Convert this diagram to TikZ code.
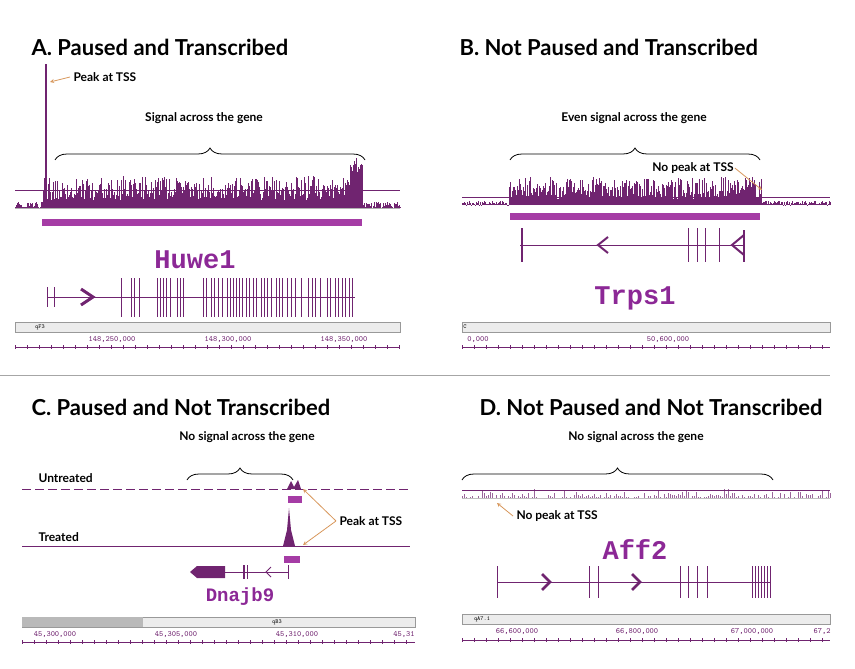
\documentclass[tikz,border=0pt]{standalone}
\usepackage{fontspec}
\setmainfont{Lato}
\newfontfamily\genefont{Liberation Mono}
\usetikzlibrary{positioning,decorations.pathreplacing}
\definecolor{trk}{RGB}{112,36,112}
\definecolor{bar}{RGB}{165,60,165}
\definecolor{gname}{RGB}{140,40,150}
\definecolor{pk}{RGB}{215,150,90}
\tikzset{
  title/.style={font=\bfseries\fontsize{22}{25}\selectfont, anchor=west},
  lbl/.style={font=\bfseries\fontsize{12}{14}\selectfont},
  gene/.style={font=\genefont\bfseries\fontsize{27}{30}\selectfont, text=gname},
  ruler/.style={font=\ttfamily\fontsize{8}{9}\selectfont, text=trk},
  brc/.style={decorate, decoration={brace, amplitude=12pt}, thick},
  sig/.style={trk, line width=0.6pt},
  tss/.style={pk, thick, ->, >=stealth},
  exon/.style={trk, line width=1pt},
  chrom/.style={fill=gray!15, draw=gray!80, thick}
}
\begin{document}
\begin{tikzpicture}[x=1pt, y=-1pt]
  \useasboundingbox (0,0) rectangle (855,669);
  \pgfmathsetseed{7}

  % panel A
  \node[title] (tA) at (28,47) {A. Paused and Transcribed};
  \foreach \x in {15,16,...,400} {
    \pgfmathsetmacro\h{(\x>42 && \x<362) ? 8+rnd*24 : rnd*6}
    \draw[sig] (\x,208) -- ++(0,-\h);
  }
  \foreach \x in {350,351,...,362} {\draw[sig] (\x,208) -- ++(0,-35-rnd*15);}
  \draw[trk, line width=1.5pt] (46,208) -- (46,64);
  \draw[trk, thick] (15,190) -- (400,190);
  \draw[gray!60] (15,208) -- (400,208);
  \node[lbl, anchor=west] (pA) at (70,77) {Peak at TSS};
  \coordinate (pAe) at (50,82);
  \draw[tss] (pA.west) -- (pAe);
  \coordinate (bA1) at (55,160);
  \coordinate (bA2) at (365,160);
  \draw[brc] (bA1) -- (bA2);
  \node[lbl] (sA) at (204,118) {Signal across the gene};
  \fill[bar] (42,219) rectangle (362,226);
  \node[gene] (gA) at (195,260) {Huwe1};
  \draw[exon] (47,297) -- (355,297);
  \draw[exon] (47,287) -- (47,307) (54,287) -- (54,307);
  \draw[trk, line width=3pt] (81,289) -- (93,297) -- (81,305);
  \foreach \x in {121,131,134,139,157,160,163,166,170,177,180,183,
      203,206,211,214,218,222,227,230,233,236,239,242,246,249,253,256,
      261,264,267,271,276,279,282,287,291,295,301,308,312,315,320,
      327,330,335,338,342,345,349,352}
    \draw[exon] (\x,278) -- (\x,317);
  \draw[chrom] (15,322) rectangle (400,332);
  \node[font=\ttfamily\fontsize{6}{7}\selectfont] (cA) at (40,327) {qF3};
  \draw[trk, thick] (15,347) -- (400,347);
  \foreach \x in {15,27,...,400} \draw[trk] (\x,345) -- (\x,349);
  \node[ruler] (rA1) at (112,340) {148,250,000};
  \node[ruler] (rA2) at (228,340) {148,300,000};
  \node[ruler] (rA3) at (344,340) {148,350,000};

  % panel B
  \node[title] (tB) at (456,47) {B. Not Paused and Transcribed};
  \foreach \x in {462,463,...,830} {
    \pgfmathsetmacro\h{(\x>508 && \x<762) ? 6+rnd*22 : rnd*4}
    \draw[sig] (\x,205) -- ++(0,-\h);
  }
  \draw[trk, thick] (462,197) -- (830,197);
  \node[lbl] (sB) at (634,118) {Even signal across the gene};
  \coordinate (bB1) at (510,160);
  \coordinate (bB2) at (760,160);
  \draw[brc] (bB1) -- (bB2);
  \node[lbl, fill=white, inner sep=1pt] (pB) at (693,168) {No peak at TSS};
  \coordinate (pBe) at (762,190);
  \draw[tss] (pB.east) -- (pBe);
  \fill[bar] (510,213) rectangle (760,220);
  \draw[exon] (520,245) -- (745,245);
  \draw[trk, line width=2pt] (522,228) -- (522,262);
  \draw[trk, line width=2pt] (608,237) -- (598,245) -- (608,253);
  \foreach \x in {688,697,705,719} \draw[exon] (\x,228) -- (\x,262);
  \draw[trk, line width=2pt] (744,235) -- (732,245) -- (744,255);
  \draw[trk, line width=2pt] (744,230) -- (744,262);
  \node[gene] (gB) at (635,298) {Trps1};
  \draw[chrom] (462,322) rectangle (830,332);
  \node[font=\ttfamily\fontsize{6}{7}\selectfont] (cB) at (465,327) {C};
  \draw[trk, thick] (462,347) -- (830,347);
  \foreach \x in {462,474,...,830} \draw[trk] (\x,345) -- (\x,349);
  \node[ruler] (rB1) at (478,340) {0,000};
  \node[ruler] (rB2) at (668,340) {50,600,000};

  \draw[gray!70] (0,375) -- (830,375);

  % panel C
  \node[title] (tC) at (28,407) {C. Paused and Not Transcribed};
  \node[lbl] (sC) at (247,437) {No signal across the gene};
  \coordinate (bC1) at (187,480);
  \coordinate (bC2) at (293,480);
  \draw[brc] (bC1) -- (bC2);
  \node[lbl, anchor=west] (uC) at (35,478) {Untreated};
  \node[lbl, anchor=west] (trC) at (35,537) {Treated};
  \draw[trk, thick, dash pattern=on 9pt off 4pt] (22,489) -- (410,489);
  \draw[trk, thick] (22,546) -- (410,546);
  \fill[trk] (287,489) -- (291,481) -- (294,487) -- (298,480) -- (301,489) -- cycle;
  \fill[trk] (283,546) -- (287,530) -- (289,508) -- (291,530) -- (295,546) -- cycle;
  \fill[bar] (288,496) rectangle (302,503);
  \fill[bar] (284,556) rectangle (300,563);
  \node[lbl, anchor=west] (pC) at (336,521) {Peak at TSS};
  \coordinate (pC1) at (303,489);
  \coordinate (pC2) at (303,545);
  \draw[tss] (pC.west) -- (pC1);
  \draw[tss] (pC.west) -- (pC2);
  \fill[trk] (190,572) -- (197,566) -- (225,566) -- (225,578) -- (197,578) -- cycle;
  \draw[exon] (225,572) -- (288,572);
  \draw[trk, line width=2pt] (244,565) -- (244,579);
  \draw[exon] (247,565) -- (247,579);
  \draw[exon] (271,567) -- (266,572) -- (271,577);
  \draw[exon] (288,565) -- (288,579);
  \node[gene, font=\genefont\bfseries\fontsize{19}{22}\selectfont] (gC) at (240,597) {Dnajb9};
  \draw[chrom] (22,617) rectangle (415,627);
  \fill[gray!55] (22,617) rectangle (143,627);
  \node[font=\ttfamily\fontsize{6}{7}\selectfont] (cC) at (277,622) {qB3};
  \draw[trk, thick] (22,642) -- (415,642);
  \foreach \x in {22,34,...,415} \draw[trk] (\x,640) -- (\x,644);
  \node[ruler] (rC1) at (55,635) {45,300,000};
  \node[ruler] (rC2) at (176,635) {45,305,000};
  \node[ruler] (rC3) at (297,635) {45,310,000};
  \node[ruler] (rC4) at (404,635) {45,31};

  % panel D
  \node[title] (tD) at (476,407) {D. Not Paused and Not Transcribed};
  \node[lbl] (sD) at (636,437) {No signal across the gene};
  \coordinate (bD1) at (462,480);
  \coordinate (bD2) at (773,480);
  \draw[brc] (bD1) -- (bD2);
  \foreach \x in {462,464,...,830} \draw[trk!70, line width=0.5pt] (\x,498) -- ++(0,-rnd*rnd*10);
  \draw[trk, thick] (462,490) -- (830,490);
  \draw[gray!50] (462,498) -- (830,498);
  \node[lbl, anchor=west] (pD) at (513,516) {No peak at TSS};
  \coordinate (pDe) at (497,503);
  \draw[tss] (pD.west) -- (pDe);
  \node[gene] (gD) at (635,550) {Aff2};
  \draw[exon] (497,582) -- (770,582);
  \draw[exon] (497,566) -- (497,598);
  \draw[trk, line width=2.5pt] (542,574) -- (550,582) -- (542,590);
  \foreach \x in {589,598,680,688,697,707} \draw[exon] (\x,566) -- (\x,598);
  \draw[trk, line width=2.5pt] (632,574) -- (640,582) -- (632,590);
  \foreach \x in {752,755,...,770} \draw[exon] (\x,566) -- (\x,598);
  \draw[chrom] (462,614) rectangle (830,624);
  \node[font=\ttfamily\fontsize{6}{7}\selectfont] (cD) at (482,619) {qA7.1};
  \draw[trk, thick] (462,640) -- (830,640);
  \foreach \x in {462,474,...,830} \draw[trk] (\x,638) -- (\x,642);
  \node[ruler] (rD1) at (517,632) {66,600,000};
  \node[ruler] (rD2) at (637,632) {66,800,000};
  \node[ruler] (rD3) at (752,632) {67,000,000};
  \node[ruler] (rD4) at (822,632) {67,2};
\end{tikzpicture}
\end{document}
